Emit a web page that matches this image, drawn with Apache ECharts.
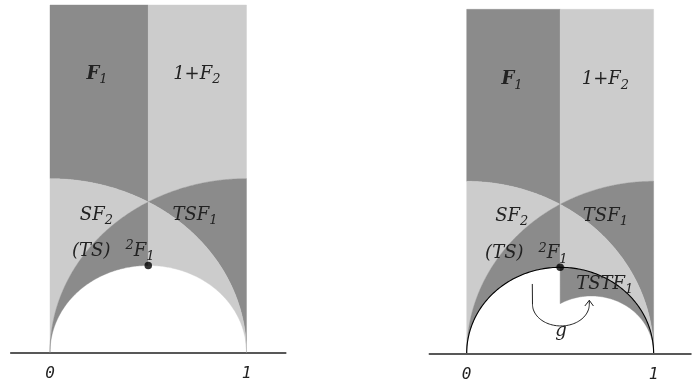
<!DOCTYPE html>
<html><head><meta charset="utf-8">
<script src="https://cdn.jsdelivr.net/npm/echarts@6/dist/echarts.min.js"></script>
<style>html,body{margin:0;padding:0;background:#fff}#c{width:694px;height:388px}</style>
</head><body><div id="c"></div>
<script>
// Boundary arcs of the tiling (circles centred on the real axis)
const arcNames = ['A', 'B', 'C', 'D'];
const arcCenters = [0, 1, 0.5, 0.6667];
const arcRadii = [1, 1, 0.5, 0.3333];
const stripTop = 2;

// Regions: x-range, lower boundary, upper boundary, shade
const regionNames = ['F1', 'SF2', '(TS)^2F1', '1+F2', 'TSF1', 'lower right', 'TSTF1'];
const regionXFrom = [0, 0, 0, 0.5, 0.5, 0.5, 0.5];
const regionXTo = [0.5, 0.5, 0.5, 1, 1, 1, 1];
const regionLower = ['A', 'B', 'C', 'B', 'A', 'C', 'D'];
const regionUpper = ['top', 'A', 'B', 'top', 'B', 'A', 'C'];
const regionShade = ['dark', 'light', 'dark', 'light', 'dark', 'light', 'dark'];
const leftPanelRegions = [0, 1, 2, 3, 4, 5];
const rightPanelRegions = [0, 1, 2, 3, 4, 5, 6];

const fixedPoint = [0.5, 0.5];
const xTickValues = [0, 1];
const xTickLabels = ['0', '1'];

// Labels
const labelTexts = ['{b|F}{bs|1}', '{m|1+F}{s|2}', '{m|SF}{s|2}', '{m|TSF}{s|1}', '{m|(TS)}{sp| }{p|2}{m|F}{s|1}', '{m|TSTF}{s|1}', '{m|g}'];
const leftLabelIdx = [0, 1, 2, 3, 4];
const leftLabelX = [0.239, 0.747, 0.236, 0.738, 0.322];
const leftLabelY = [1.601, 1.601, 0.789, 0.789, 0.583];
const rightLabelIdx = [0, 1, 2, 3, 4, 5, 6];
const rightLabelX = [0.242, 0.742, 0.241, 0.742, 0.319, 0.739, 0.504];
const rightLabelY = [1.591, 1.591, 0.796, 0.796, 0.579, 0.401, 0.126];

// Arrow g
const arrowShaftTop = [0.351, 0.403];
const arrowLoopCenter = [0.504, 0.285];
const arrowLoopRadius = [0.152, 0.126];
const arrowTip = [0.656, 0.308];
const arrowWings = [[0.632, 0.275], [0.678, 0.275]];

const shadeColors = { dark: '#8b8b8b', light: '#cccccc' };
const ink = '#222222';
const serif = '"DejaVu Serif", serif';

function curvePoints(key, x0, x1, n) {
  if (key === 'top') return [[x0, stripTop], [x1, stripTop]];
  const k = arcNames.indexOf(key);
  const c = arcCenters[k], r = arcRadii[k];
  const cl = v => Math.max(-1, Math.min(1, v));
  const t0 = Math.acos(cl((x0 - c) / r)), t1 = Math.acos(cl((x1 - c) / r));
  const pts = [];
  for (let i = 0; i <= n; i++) {
    const t = t0 + (t1 - t0) * i / n;
    pts.push([c + r * Math.cos(t), r * Math.sin(t)]);
  }
  return pts;
}

function regionSeries(panel, list) {
  return {
    type: 'custom', xAxisIndex: panel, yAxisIndex: panel, silent: true, z: 1,
    data: list.map(i => [i]),
    renderItem: function (params, api) {
      const i = api.value(0);
      const up = curvePoints(regionUpper[i], regionXFrom[i], regionXTo[i], 120);
      const lo = curvePoints(regionLower[i], regionXFrom[i], regionXTo[i], 120).reverse();
      const pts = up.concat(lo).map(p => api.coord(p));
      const col = shadeColors[regionShade[i]];
      return { type: 'polygon', shape: { points: pts }, style: { fill: col, stroke: col, lineWidth: 0.4 } };
    }
  };
}

const rich = {
  m: { fontFamily: serif, fontStyle: 'italic', fontSize: 18, lineHeight: 24, color: ink },
  b: { fontFamily: serif, fontStyle: 'italic', fontWeight: 'bold', fontSize: 18, lineHeight: 24, color: ink },
  s: { fontFamily: serif, fontStyle: 'italic', fontSize: 13, lineHeight: 14, verticalAlign: 'bottom', color: ink },
  bs: { fontFamily: serif, fontStyle: 'italic', fontSize: 13, lineHeight: 14, verticalAlign: 'bottom', color: ink },
  p: { fontFamily: serif, fontStyle: 'italic', fontSize: 13, lineHeight: 15, verticalAlign: 'top', color: ink },
  sp: { fontSize: 13, width: 15, lineHeight: 14 }
};

function labelSeries(panel, idx, xs, ys) {
  return {
    type: 'custom', xAxisIndex: panel, yAxisIndex: panel, silent: true, z: 5,
    data: idx.map((k, j) => [xs[j], ys[j], k]),
    renderItem: function (params, api) {
      const p = api.coord([api.value(0), api.value(1)]);
      return { type: 'text', x: p[0], y: p[1],
        style: { text: labelTexts[api.value(2)], rich: rich, align: 'center', verticalAlign: 'middle', fill: ink } };
    }
  };
}

function axisPair(panel) {
  return {
    gridIndex: panel, type: 'value', min: -0.2, max: 1.2, interval: 0.2,
    axisLine: { show: true, onZero: false, lineStyle: { color: '#222', width: 1.5 } },
    axisTick: { show: false }, splitLine: { show: false },
    axisLabel: {
      margin: 14, fontFamily: '"DejaVu Sans Mono", monospace', fontStyle: 'italic', fontSize: 16, color: '#222',
      showMinLabel: true, showMaxLabel: true,
      formatter: v => { const k = xTickValues.findIndex(t => Math.abs(t - v) < 1e-6); return k >= 0 ? xTickLabels[k] : ''; }
    }
  };
}

const chart = echarts.init(document.getElementById('c'), null, { renderer: 'canvas' });
chart.setOption({
  animation: false,
  backgroundColor: '#fff',
  grid: [
    { left: 10.7, top: 5, width: 275.1, height: 347.3 },
    { left: 429.3, top: 9.3, width: 273, height: 344 }
  ],
  xAxis: [axisPair(0), axisPair(1)],
  yAxis: [
    { gridIndex: 0, type: 'value', min: 0, max: 2, show: false },
    { gridIndex: 1, type: 'value', min: 0, max: 2, show: false }
  ],
  series: [
    regionSeries(0, leftPanelRegions),
    regionSeries(1, rightPanelRegions),
    {
      type: 'custom', xAxisIndex: 1, yAxisIndex: 1, silent: true, z: 3, data: [[0]],
      renderItem: function (params, api) {
        const pts = curvePoints('C', 0, 1, 160).map(p => api.coord(p));
        return { type: 'polyline', shape: { points: pts }, style: { fill: null, stroke: '#000', lineWidth: 1.1 } };
      }
    },
    {
      type: 'custom', xAxisIndex: 1, yAxisIndex: 1, silent: true, z: 4, data: [[0]],
      renderItem: function (params, api) {
        const pts = [arrowShaftTop];
        const n = 60;
        for (let i = 0; i <= n; i++) {
          const t = Math.PI * i / n;
          pts.push([arrowLoopCenter[0] - arrowLoopRadius[0] * Math.cos(t), arrowLoopCenter[1] - arrowLoopRadius[1] * Math.sin(t)]);
        }
        pts.push(arrowTip);
        const head = [arrowWings[0], arrowTip, arrowWings[1]];
        return { type: 'group', children: [
          { type: 'polyline', shape: { points: pts.map(p => api.coord(p)) }, style: { fill: null, stroke: ink, lineWidth: 1 } },
          { type: 'polyline', shape: { points: head.map(p => api.coord(p)) }, style: { fill: null, stroke: ink, lineWidth: 1 } }
        ] };
      }
    },
    { type: 'scatter', xAxisIndex: 0, yAxisIndex: 0, symbolSize: 7.5, itemStyle: { color: '#000' }, data: [fixedPoint], z: 6, silent: true },
    { type: 'scatter', xAxisIndex: 1, yAxisIndex: 1, symbolSize: 7.5, itemStyle: { color: '#000' }, data: [fixedPoint], z: 6, silent: true },
    labelSeries(0, leftLabelIdx, leftLabelX, leftLabelY),
    labelSeries(1, rightLabelIdx, rightLabelX, rightLabelY)
  ]
});
</script></body></html>
